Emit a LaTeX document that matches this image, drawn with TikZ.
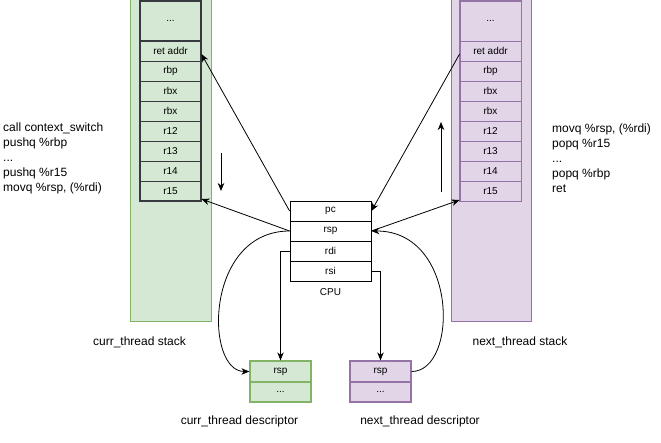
\documentclass[tikz,border=0pt]{standalone}
\usepackage{fontspec}
\setmainfont{Liberation Sans}
\usetikzlibrary{arrows.meta}
\definecolor{gfill}{HTML}{D5E8D4}
\definecolor{gline}{HTML}{82B366}
\definecolor{pfill}{HTML}{E1D5E7}
\definecolor{pline}{HTML}{9673A6}
\definecolor{dark}{HTML}{36393D}
\tikzset{
  cell/.style={draw, minimum width=61pt, minimum height=20pt, inner sep=0pt, font=\fontsize{10}{12}\selectfont},
  gcell/.style={cell, fill=gfill, draw=dark, line width=0.8pt},
  pcell/.style={cell, fill=pfill, draw=pline, line width=0.8pt},
  cpucell/.style={cell, fill=white, draw=black, minimum width=81pt, line width=0.8pt},
  label/.style={font=\fontsize{12}{15}\selectfont, inner sep=0pt},
  arr/.style={draw=black, line width=0.8pt, -{Stealth[length=8pt,width=6.5pt,inset=2.5pt]}},
  link/.style={draw=black, line width=0.8pt}
}
\begin{document}
\begin{tikzpicture}[x=1pt,y=-1pt]
\useasboundingbox (0,0) rectangle (661,442);
\fill[white] (0,0) rectangle (661,442);

% stack backgrounds
\draw[gline, fill=gfill, line width=0.8pt] (130,-2) rectangle (211,321);
\draw[pline, fill=pfill, line width=0.8pt] (451,-2) rectangle (531,321);

% current thread stack
\node[gcell, minimum height=40pt] (ltop) at (170.5,21) {...};
\node[gcell] (lret) at (170.5,51) {ret addr};
\node[gcell] (lrbp) at (170.5,71) {rbp};
\node[gcell] (lrbx) at (170.5,91) {rbx};
\node[gcell] (lrbxb) at (170.5,111) {rbx};
\node[gcell] (lr12) at (170.5,131) {r12};
\node[gcell] (lr13) at (170.5,151) {r13};
\node[gcell] (lr14) at (170.5,171) {r14};
\node[gcell] (lr15) at (170.5,191) {r15};
\draw[dark, line width=2pt] (ltop.north west) rectangle (lr15.south east);
\draw[dark, line width=2pt] (ltop.south west) -- (ltop.south east);

% next thread stack
\node[pcell, minimum height=40pt] (rtop) at (490.5,21) {...};
\node[pcell] (rret) at (490.5,51) {ret addr};
\node[pcell] (rrbp) at (490.5,71) {rbp};
\node[pcell] (rrbx) at (490.5,91) {rbx};
\node[pcell] (rrbxb) at (490.5,111) {rbx};
\node[pcell] (rr12) at (490.5,131) {r12};
\node[pcell] (rr13) at (490.5,151) {r13};
\node[pcell] (rr14) at (490.5,171) {r14};
\node[pcell] (rr15) at (490.5,191) {r15};
\draw[pline, line width=1.5pt] (rtop.north west) rectangle (rr15.south east);

% CPU registers
\node[cpucell] (cpc) at (330.5,211) {pc};
\node[cpucell] (crsp) at (330.5,231) {rsp};
\node[cpucell] (crdi) at (330.5,251) {rdi};
\node[cpucell] (crsi) at (330.5,271) {rsi};
\node[font=\fontsize{10}{12}\selectfont] (cpu) at (330.5,292) {CPU};

% thread descriptors
\node[cell, fill=gfill, draw=gline, line width=1.2pt, minimum height=21pt] (cdrsp) at (280.5,371.5) {rsp};
\node[cell, fill=gfill, draw=gline, line width=1.2pt] (cddot) at (280.5,392) {...};
\node[cell, fill=pfill, draw=pline, line width=1.2pt, minimum height=21pt] (ndrsp) at (380.5,371.5) {rsp};
\node[cell, fill=pfill, draw=pline, line width=1.2pt] (nddot) at (380.5,392) {...};

% captions
\node[label] (lcap) at (139.5,342) {curr\_thread stack};
\node[label] (rcap) at (520,342) {next\_thread stack};
\node[label] (cdcap) at (239.5,421) {curr\_thread descriptor};
\node[label] (ndcap) at (420,421) {next\_thread descriptor};

% instruction listings
\node[label, anchor=west, align=left] (lcode) at (3,158) {call context\_switch\\pushq \%rbp\\...\\pushq \%r15\\movq \%rsp, (\%rdi)};
\node[label, anchor=west, align=left] (rcode) at (552,158) {movq \%rsp, (\%rdi)\\popq \%r15\\...\\popq \%rbp\\ret};

% push / pop direction
\coordinate (pushA) at (221,153);
\coordinate (pushB) at (221,191);
\coordinate (popA) at (441,192);
\coordinate (popB) at (441,122);
\draw[arr] (pushA) -- (pushB);
\draw[arr] (popA) -- (popB);

% register connections
\draw[arr] (cpc.west) -- ([yshift=-3pt]lret.east);
\draw[arr] (crsp.west) -- ([yshift=-8pt]lr15.east);
\draw[arr] ([yshift=-3pt]rret.west) -- (cpc.east);
\draw[arr] (crsp.east) -- ([yshift=-9pt]rr15.west);
\draw[arr] (crdi.west) -| (cdrsp.north);
\draw[arr] (crsi.east) -| (ndrsp.north);
\draw[arr] (crsp.west) .. controls +(-85,0) and +(-45,0) .. (cdrsp.west);
\draw[arr] (ndrsp.east) .. controls +(47,0) and +(87,0) .. (crsp.east);
\end{tikzpicture}
\end{document}
